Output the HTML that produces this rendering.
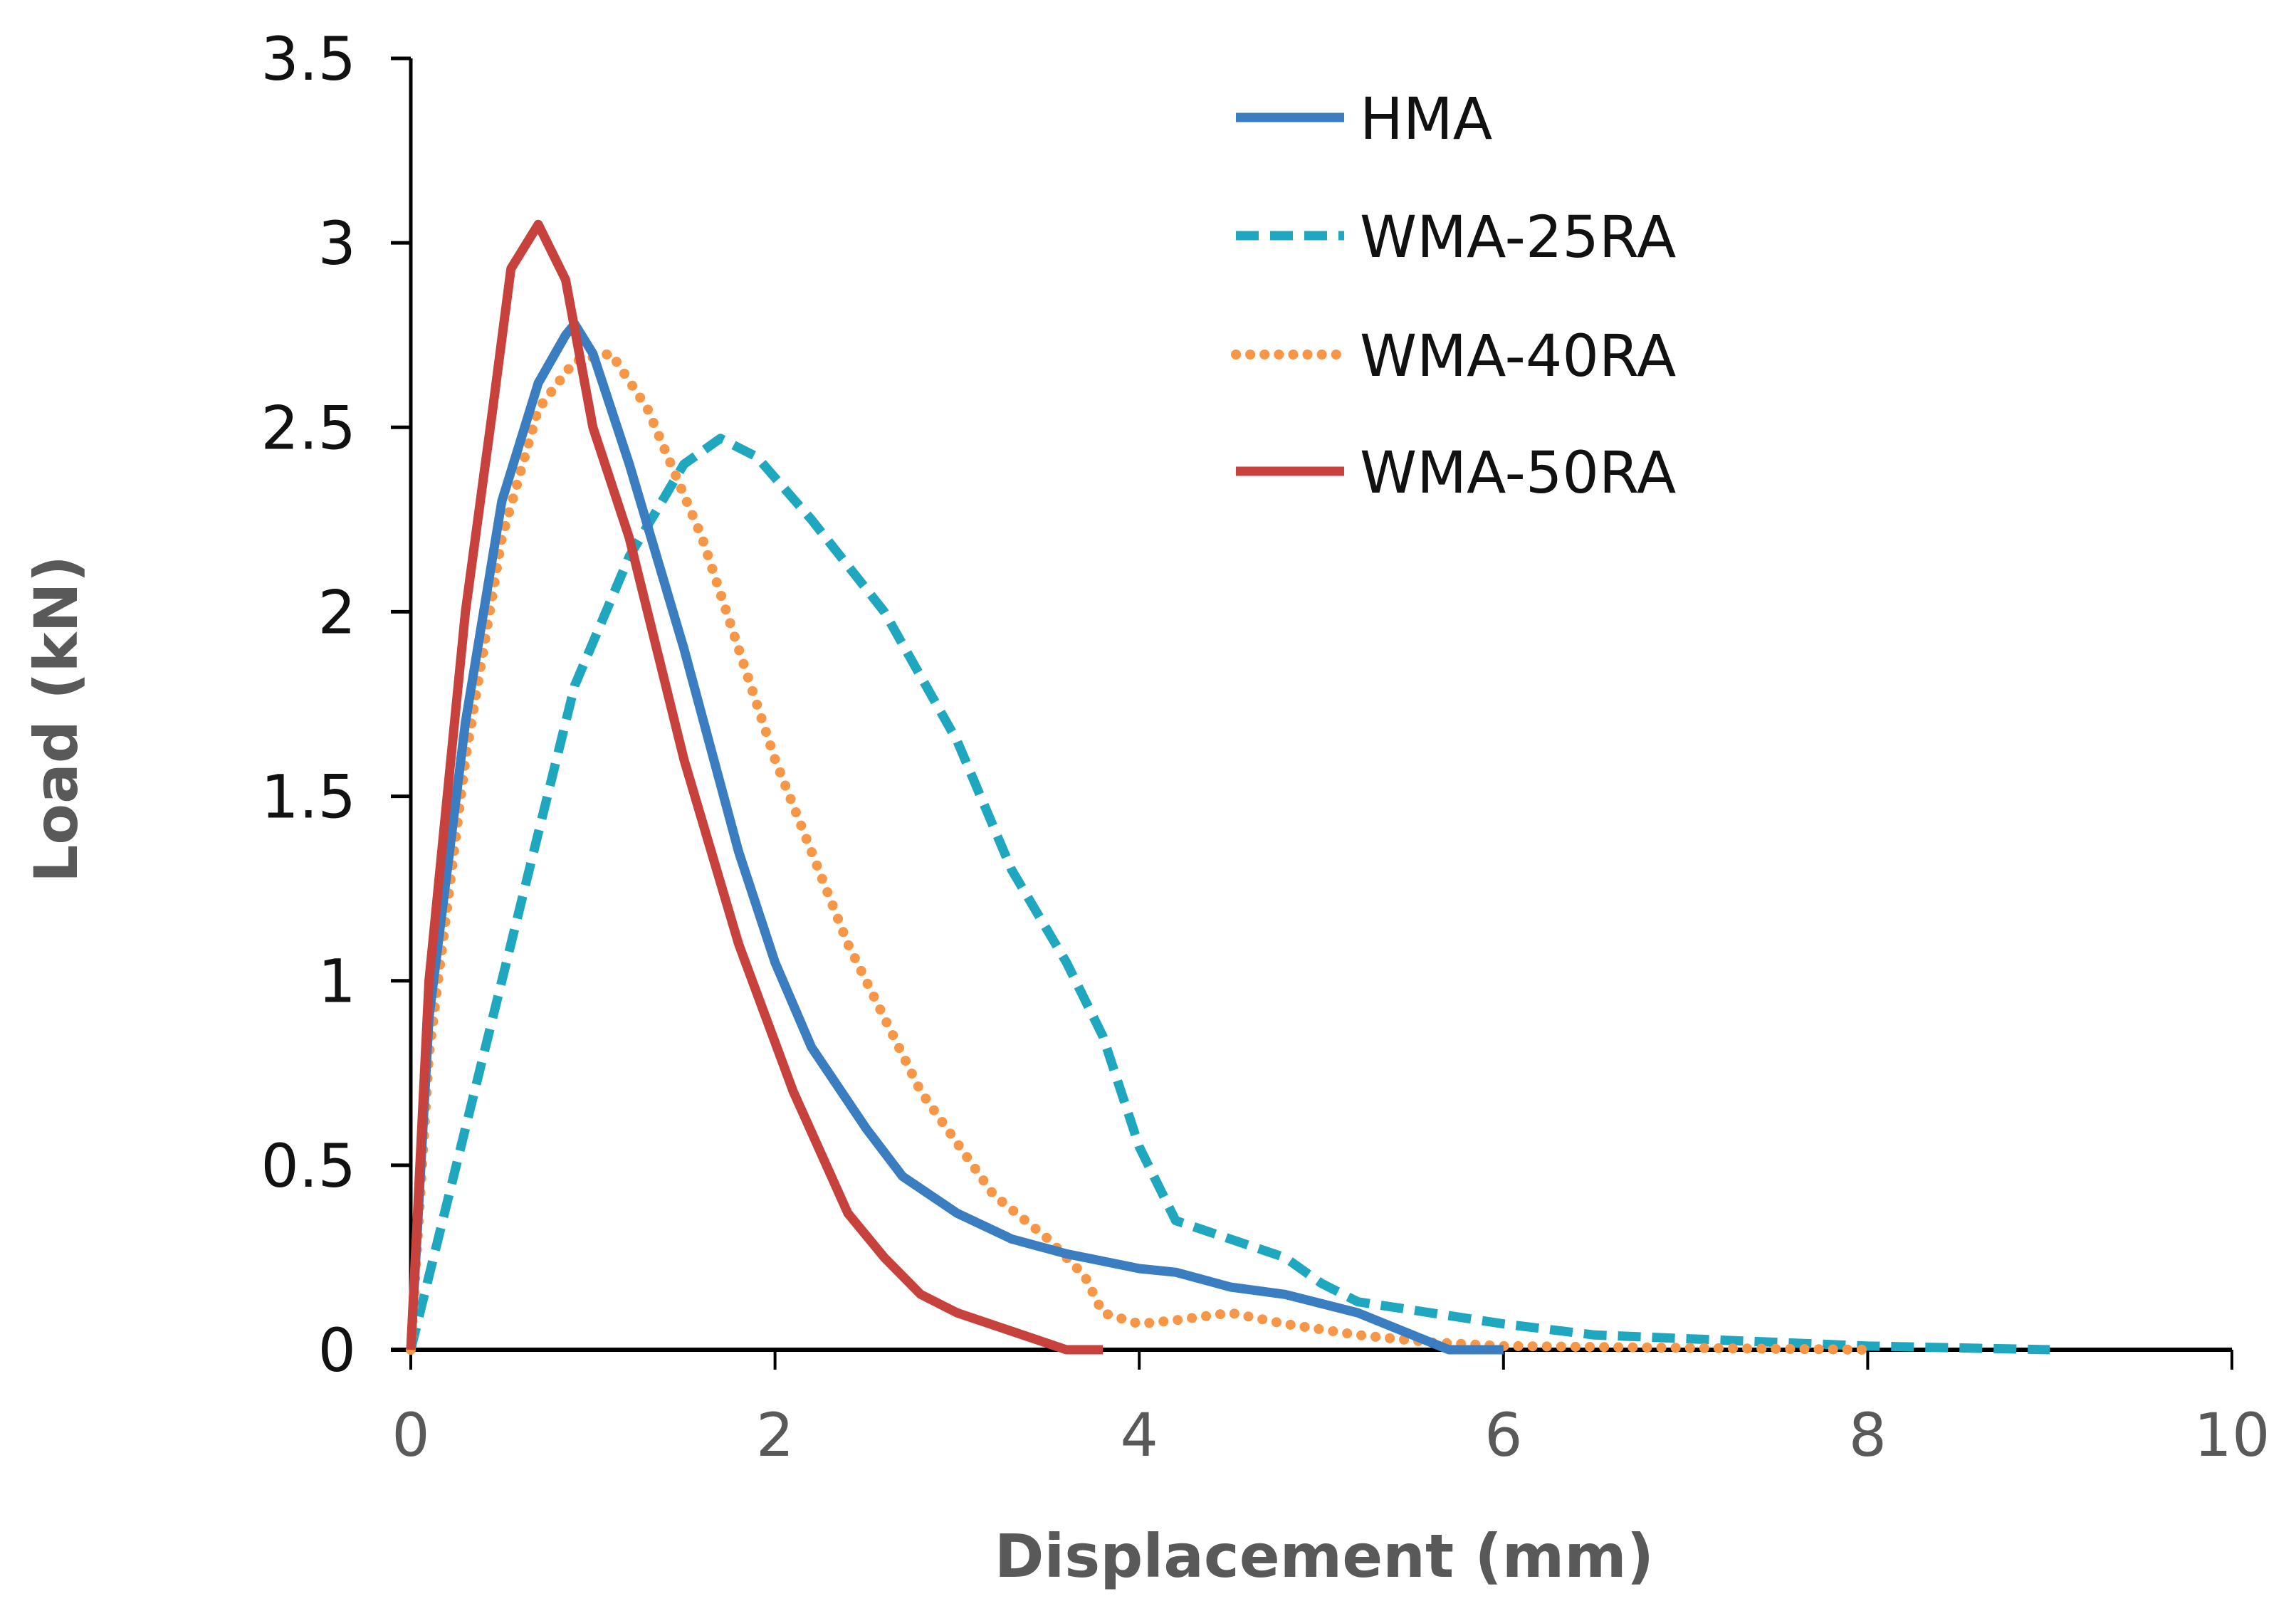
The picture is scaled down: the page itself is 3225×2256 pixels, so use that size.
<!DOCTYPE html>
<html><head><meta charset="utf-8"><style>
html,body{margin:0;padding:0;background:#fff;width:3225px;height:2256px;overflow:hidden}
svg{display:block}
text{font-family:"DejaVu Sans","Liberation Sans",sans-serif}
</style></head><body>
<svg id="chart" width="3225" height="2256" viewBox="0 0 3225 2256" xmlns="http://www.w3.org/2000/svg">
<g id="axes"></g>
<g id="series"></g>
<g id="legend"></g>
<text x="1860" y="2215" text-anchor="middle" font-size="84" font-weight="bold" fill="#595959">Displacement (mm)</text>
<text transform="translate(108,1010) rotate(-90)" text-anchor="middle" font-size="84" font-weight="bold" fill="#595959">Load (kN)</text>
</svg>
<script>
const xTicks=[0,2,4,6,8,10];
const yTicks=[0,0.5,1,1.5,2,2.5,3,3.5];
const yTickLabels=["0","0.5","1","1.5","2","2.5","3","3.5"];
const seriesNames=["HMA","WMA-25RA","WMA-40RA","WMA-50RA"];
const hmaX=[0,0.1,0.3,0.5,0.7,0.85,0.9,1.0,1.2,1.5,1.8,2.0,2.2,2.5,2.7,3.0,3.3,3.6,4.0,4.2,4.5,4.8,5.2,5.5,5.7,6];
const hmaY=[0,0.9,1.7,2.3,2.62,2.75,2.78,2.7,2.4,1.9,1.35,1.05,0.82,0.6,0.47,0.37,0.3,0.26,0.22,0.21,0.17,0.15,0.1,0.04,0,0];
const w25X=[0,0.3,0.6,0.9,1.2,1.5,1.7,1.9,2.2,2.6,3.0,3.3,3.6,3.8,4.0,4.2,4.5,4.8,5.0,5.2,5.6,6.0,6.5,7,8,9];
const w25Y=[0,0.6,1.2,1.8,2.15,2.4,2.47,2.42,2.25,2.0,1.65,1.3,1.05,0.85,0.55,0.35,0.3,0.25,0.18,0.13,0.1,0.07,0.04,0.03,0.01,0];
const w40X=[0,0.1,0.3,0.5,0.7,0.9,1.1,1.3,1.6,2.0,2.4,2.8,3.2,3.5,3.7,3.8,4.0,4.2,4.5,4.8,5.2,5.6,6,7,8];
const w40Y=[0,0.8,1.6,2.2,2.55,2.68,2.7,2.55,2.2,1.6,1.1,0.7,0.42,0.3,0.2,0.1,0.07,0.08,0.1,0.07,0.04,0.02,0.01,0.005,0];
const w50X=[0,0.1,0.3,0.45,0.55,0.7,0.85,1.0,1.2,1.5,1.8,2.1,2.4,2.6,2.8,3.0,3.3,3.6,3.8];
const w50Y=[0,1.0,2.0,2.55,2.93,3.05,2.9,2.5,2.2,1.6,1.1,0.7,0.37,0.25,0.15,0.1,0.05,0,0];

const X0=577,X1=3135,Y0=1896,Y1=82;
const sx=v=>X0+(X1-X0)*v/10;
const sy=v=>Y0-(Y0-Y1)*v/3.5;
const NS="http://www.w3.org/2000/svg";
function mk(tag,attrs,parent){const e=document.createElementNS(NS,tag);for(const k in attrs)e.setAttribute(k,attrs[k]);parent.appendChild(e);return e;}
const axes=document.getElementById('axes');
let a=mk('line',{x1:X0,y1:Y1,x2:X0,y2:Y0,stroke:'#000','stroke-width':5},axes);


a=mk('line',{x1:X0-28,y1:Y0,x2:X1,y2:Y0,stroke:'#000','stroke-width':6},axes);


yTicks.forEach((v,i)=>{
  const t=mk('line',{x1:X0-28,y1:sy(v),x2:X0,y2:sy(v),stroke:'#000','stroke-width':5},axes);
  
  
  const l=mk('text',{x:500,y:sy(v)+30,'text-anchor':'end','font-size':84,fill:'#111'},axes);
  l.textContent=yTickLabels[i];
  
  
});
xTicks.forEach(v=>{
  const t=mk('line',{x1:sx(v),y1:Y0,x2:sx(v),y2:Y0+28,stroke:'#000','stroke-width':4},axes);
  
  
  const l=mk('text',{x:sx(v),y:2045,'text-anchor':'middle','font-size':84,fill:'#595959'},axes);
  l.textContent=String(v);
  
  
});
const styles=[
 {c:'#3a7dc0',w:13,d:null,cap:'butt'},
 {c:'#1fa7bf',w:13,d:'32 16',cap:'butt'},
 {c:'#f79646',w:14,d:'0.1 20',cap:'round'},
 {c:'#c8423d',w:13,d:null,cap:'butt'}];
const data=[[hmaX,hmaY],[w25X,w25Y],[w40X,w40Y],[w50X,w50Y]];
const sg=document.getElementById('series');
const order=[1,2,0,3];
order.forEach(i=>{
  const [xs,ys]=data[i];const s=styles[i];
  const p=mk('polyline',{points:xs.map((x,j)=>sx(x)+','+sy(ys[j])).join(' '),fill:'none',stroke:s.c,'stroke-width':s.w,'stroke-linecap':s.cap,'stroke-linejoin':'round'},sg);
  if(s.d)p.setAttribute('stroke-dasharray',s.d);
  
  
});
const lg=document.getElementById('legend');
const rowsY=[165,331,498,662];
seriesNames.forEach((n,i)=>{
  const s=styles[i];
  const l=mk('line',{x1:1736,y1:rowsY[i],x2:1888,y2:rowsY[i],stroke:s.c,'stroke-width':s.w,'stroke-linecap':s.cap},lg);
  if(s.d)l.setAttribute('stroke-dasharray',s.d);
  
  
  const t=mk('text',{x:1910,y:rowsY[i]+30,'font-size':81,fill:'#111'},lg);
  t.textContent=n;
  
  
});
</script>
</body></html>
